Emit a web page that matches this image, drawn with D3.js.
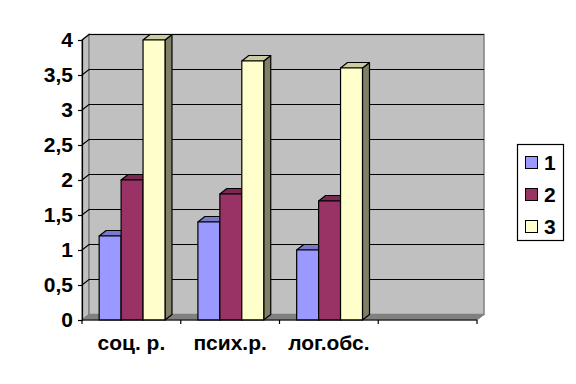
<!DOCTYPE html>
<html><head><meta charset="utf-8">
<script src="https://cdn.jsdelivr.net/npm/d3@7"></script>
<style>html,body{margin:0;padding:0;background:#fff}svg{display:block}text{font-family:"Liberation Sans",Arial,sans-serif;font-weight:bold;fill:#000}</style>
</head><body><script>
const categories = ["соц. р.", "псих.р.", "лог.обс.", ""];
const seriesNames = ["1", "2", "3"];
const values1 = [1.2, 1.4, 1.0];
const values2 = [2.0, 1.8, 1.7];
const values3 = [4.0, 3.7, 3.6];
const yTicks = [0, 0.5, 1, 1.5, 2, 2.5, 3, 3.5, 4];
const yTickLabels = ["0", "0,5", "1", "1,5", "2", "2,5", "3", "3,5", "4"];
const fronts = ["#9999FF", "#993366", "#FFFFCC"];
const tops = ["#7A7ACC", "#7A2952", "#CCCCA3"];
const sides = ["#6B6BB3", "#6B2447", "#808066"];

const series = [values1, values2, values3];
const dx = 7, dy = -5.5;
const svg = d3.select("body").append("svg").attr("width", 576).attr("height", 384);
const y = d3.scaleLinear().domain([0, 4]).range([320, 40]);
const x0 = d3.scaleBand().domain(categories.map((c, i) => i)).range([82, 477]);
const x1 = d3.scaleBand().domain([0, 1, 2]).range([0, x0.bandwidth()]).paddingOuter(0.75).paddingInner(0);
const poly = pts => pts.map(p => p.join(",")).join(" ");
const L = 82, R = 477, Y0 = y(0), Y4 = y(4);

// side wall
svg.append("polygon").attr("points", poly([[L, Y0], [L + dx, Y0 + dy], [L + dx, Y4 + dy], [L, Y4]]))
  .attr("fill", "#C0C0C0").attr("stroke", "#808080").attr("stroke-width", 1.5);
// back wall
svg.append("rect").attr("x", L + dx).attr("y", Y4 + dy).attr("width", R - L).attr("height", Y0 - Y4)
  .attr("fill", "#C0C0C0").attr("stroke", "#808080").attr("stroke-width", 1.5);
// floor
svg.append("polygon").attr("points", poly([[L, Y0], [L + dx, Y0 + dy], [R + dx, Y0 + dy], [R, Y0]]))
  .attr("fill", "#808080").attr("stroke", "#808080");

// gridlines
yTicks.slice(1).forEach(t => {
  svg.append("polyline").attr("points", poly([[L, y(t)], [L + dx, y(t) + dy], [R + dx, y(t) + dy]]))
    .attr("fill", "none").attr("stroke", "#000").attr("stroke-width", 1.2);
});

// bars
series.forEach((vals, s) => {
  vals.forEach((v, i) => {
    const bx = x0(i) + x1(s) + 0.7, w = x1.bandwidth(), ty = y(v);
    const g = svg.append("g").attr("stroke", "#000").attr("stroke-width", 1.2).attr("stroke-linejoin", "round");
    g.append("polygon").attr("points", poly([[bx + w, Y0], [bx + w + dx, Y0 + dy], [bx + w + dx, ty + dy], [bx + w, ty]])).attr("fill", sides[s]);
    g.append("polygon").attr("points", poly([[bx, ty], [bx + dx, ty + dy], [bx + w + dx, ty + dy], [bx + w, ty]])).attr("fill", tops[s]);
    g.append("rect").attr("x", bx).attr("y", ty).attr("width", w).attr("height", Y0 - ty).attr("fill", fronts[s]);
  });
});

// y axis
const yAxis = d3.axisLeft(y).tickValues(yTicks).tickSize(4).tickPadding(5).tickFormat((d, i) => yTickLabels[i]);
const ya = svg.append("g").attr("transform", `translate(${L},0)`).call(yAxis);
ya.select(".domain").attr("stroke", "#000").attr("stroke-width", 1.2);
ya.selectAll("line").attr("stroke", "#000").attr("stroke-width", 1.2);
ya.selectAll("text").style("font-size", "21px").attr("fill", "#000");

// x axis
const xa = svg.append("g").attr("transform", `translate(0,${Y0})`);
xa.append("line").attr("x1", L).attr("x2", R).attr("y1", 0).attr("y2", 0).attr("stroke", "#000").attr("stroke-width", 1.2);
d3.range(categories.length + 1).forEach(i => {
  const tx = i < categories.length ? x0(i) : R;
  xa.append("line").attr("x1", tx).attr("x2", tx).attr("y1", 0).attr("y2", 4).attr("stroke", "#000").attr("stroke-width", 1.2);
});
categories.forEach((c, i) => {
  if (c) xa.append("text").attr("x", x0(i) + x0.bandwidth() / 2).attr("y", 30).attr("text-anchor", "middle").style("font-size", "21px").text(c);
});

// legend
const lg = svg.append("g");
lg.append("rect").attr("x", 517.5).attr("y", 144.5).attr("width", 46).attr("height", 96).attr("fill", "#fff").attr("stroke", "#000").attr("stroke-width", 1.2);
seriesNames.forEach((n, i) => {
  const cy = 162.5 + i * 32;
  lg.append("rect").attr("x", 525.5).attr("y", cy - 6).attr("width", 12).attr("height", 12).attr("fill", fronts[i]).attr("stroke", "#000").attr("stroke-width", 1);
  lg.append("text").attr("x", 544).attr("y", cy + 7).style("font-size", "21px").text(n);
});
</script></body></html>
